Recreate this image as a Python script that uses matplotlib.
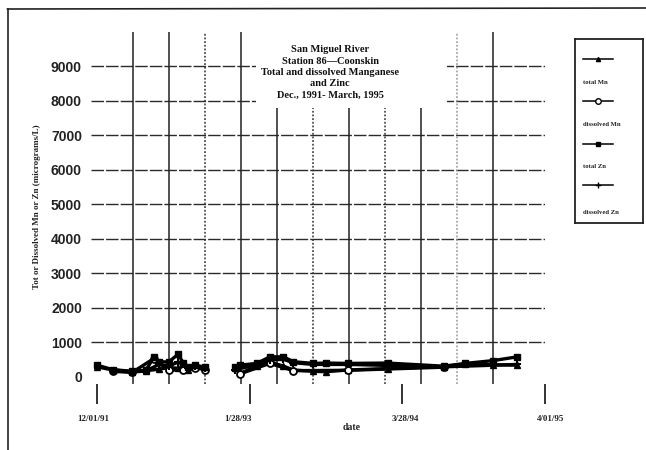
import matplotlib
matplotlib.use("Agg")
import matplotlib.pyplot as plt
from matplotlib.patches import Rectangle
from matplotlib.lines import Line2D
from matplotlib.transforms import ScaledTranslation

# ---------------- data (days since 12/01/91, micrograms/L) ----------------
days_total_zn = [0, 44, 98, 136, 158, 172, 199, 226, 240, 254, 273, 300,
                 382, 398, 444, 480, 518, 545, 600, 635, 698, 807, 963, 1023, 1099, 1167]
total_zn = [330, 200, 150, 180, 560, 430, 420, 650, 380, 290, 330, 270,
            290, 330, 380, 570, 570, 430, 380, 390, 380, 390, 300, 380, 460, 570]

days_total_mn = [0, 44, 98, 136, 172, 199, 226, 254, 273, 300,
                 382, 398, 444, 480, 518, 545, 600, 635, 698, 807, 963, 1023, 1099, 1167]
total_mn = [280, 190, 140, 170, 210, 260, 240, 200, 290, 230,
            260, 90, 300, 420, 300, 190, 150, 140, 190, 230, 290, 360, 340, 330]

days_diss_zn = [44, 98, 136, 172, 199, 226, 254, 273, 300,
                382, 444, 480, 518, 545, 600, 698, 963, 1167]
diss_zn = [170, 130, 160, 350, 300, 420, 250, 300, 240,
           200, 330, 480, 500, 400, 350, 350, 280, 350]

days_diss_mn = [44, 98, 158, 199, 240, 273, 300, 398, 480, 545, 698, 963]
diss_mn = [150, 120, 520, 180, 200, 250, 200, 80, 380, 170, 180, 270]

tick_days = [0, 424, 848, 1244]
tick_labels = ["12/01/91", "1/28/93", "3/28/94", "4/01/95"]
y_ticks = [0, 1000, 2000, 3000, 4000, 5000, 6000, 7000, 8000, 9000]
grid_days = [100, 200, 300, 400, 500, 600, 700, 800, 900, 1000, 1100]
dotted_grid_days = [300, 600, 800, 1000]
sampling_break_day = 340  # no samples (and no line) around this date

title_lines = ["San Miguel River", "Station 86\u2014Coonskin",
               "Total and dissolved Manganese", "and Zinc",
               "Dec., 1991- March, 1995"]
legend_labels = ["total Mn", "dissolved Mn", "total Zn", "dissolved Zn"]

# ---------------- figure ----------------
W, H = 646, 450
fig = plt.figure(figsize=(W / 100, H / 100), dpi=100)
fig.patch.set_facecolor("white")

def fx(px):
    return px / W

def fy(py):
    return 1 - py / H

ax = fig.add_axes([fx(91), fy(384), (545 - 91) / W, (384 - 31.5) / H])
ax.set_xlim(-16.4, 1221.7)
ax.set_ylim(-217, 10000)
for s in ax.spines.values():
    s.set_visible(False)

# gridlines
for v in y_ticks[1:]:
    ax.axhline(v, color="#2a2a2a", lw=1.0, ls=(0, (9, 1.5)), zorder=1)
for d in grid_days:
    if d in dotted_grid_days:
        col = "#999999" if d == 1000 else "#333333"
        ax.axvline(d, color=col, lw=1.1, ls=(0, (1.2, 1.2)), zorder=1)
    else:
        ax.axvline(d, color="#222222", lw=1.1, zorder=1)


def plot_series(days, vals, **kw):
    before = [i for i, d in enumerate(days) if d < sampling_break_day]
    after = [i for i, d in enumerate(days) if d >= sampling_break_day]
    for idx in (before, after):
        if idx:
            ax.plot([days[i] for i in idx], [vals[i] for i in idx], **kw)


lk = dict(color="black", lw=2.4, zorder=3)
plot_series(days_total_mn, total_mn, marker="^", ms=4, **lk)
plot_series(days_diss_mn, diss_mn, marker="o", ms=5, mfc="white", mec="black", mew=1.3, **lk)
plot_series(days_total_zn, total_zn, marker="s", ms=4, **lk)
plot_series(days_diss_zn, diss_zn, marker="+", ms=6, mew=1.5, **lk)

# ticks
ax.set_yticks(y_ticks)
ax.set_yticklabels([str(v) for v in y_ticks], fontfamily="Liberation Sans",
                   fontweight="bold", fontsize=10, color="#222222")
ax.tick_params(axis="y", length=0, pad=6.5)
ax.set_xticks(tick_days)
ax.set_xticklabels(tick_labels, fontfamily="Liberation Serif", fontweight="bold",
                   fontsize=6.5, color="#222222")
ax.tick_params(axis="x", direction="out", length=14.4, width=1.3, pad=8,
               color="#222222")
# the scanned labels sit slightly off their tick marks
label_shift_px = [-4, -12, 3, 6]
for lbl, dx in zip(ax.get_xticklabels(), label_shift_px):
    lbl.set_transform(lbl.get_transform() +
                      ScaledTranslation(dx / 100, 0, fig.dpi_scale_trans))

# title block with white background
ax.add_patch(Rectangle((fx(256), fy(108)), (447 - 256) / W, (108 - 28) / H,
                       transform=fig.transFigure, facecolor="white",
                       edgecolor="none", zorder=2, clip_on=False))
fig.text(fx(330), fy(72.5), "\n".join(title_lines), ha="center", va="center",
         fontfamily="Liberation Serif", fontweight="bold", fontsize=7.5,
         linespacing=1.35, color="#111111", zorder=5)

# axis labels
fig.text(fx(37), fy(207), "Tot or Dissolved Mn or Zn (micrograms/L)",
         rotation=90, ha="center", va="center", fontfamily="Liberation Serif",
         fontweight="bold", fontsize=6.5, color="#222222")
fig.text(fx(352), fy(428), "date", ha="center", va="center",
         fontfamily="Liberation Serif", fontweight="bold", fontsize=7,
         color="#222222")

# legend box
lax = fig.add_axes([fx(575), fy(223), (643 - 575) / W, (223 - 39) / H])
lax.set_xlim(575, 643)
lax.set_ylim(223, 39)
lax.set_xticks([])
lax.set_yticks([])
for s in lax.spines.values():
    s.set_linewidth(1.3)
    s.set_color("#222222")
leg_styles = [dict(marker="^", ms=3),
              dict(marker="o", ms=4, mfc="white", mec="black", mew=1.0),
              dict(marker="s", ms=2.5),
              dict(marker="+", ms=4, mew=1.0)]
leg_line_y = [59, 101, 144, 185]
leg_text_y = [83, 124, 167, 212]
for st, ly, ty, lab in zip(leg_styles, leg_line_y, leg_text_y, legend_labels):
    lax.plot([583, 613], [ly, ly], color="black", lw=1.1)
    lax.plot([598], [ly], color="black", ls="none", **st)
    lax.text(583, ty, lab, ha="left", va="center", fontfamily="Liberation Serif",
             fontweight="bold", fontsize=4.8, color="#222222")

# page frame
fig.add_artist(Line2D([fx(7.5), fx(7.5)], [fy(9), fy(450)], color="#222222", lw=1.2))
fig.add_artist(Line2D([fx(7.5), fx(646)], [fy(9), fy(8)], color="#222222", lw=1.2))

fig.savefig("out.png", dpi=100, facecolor="white")
